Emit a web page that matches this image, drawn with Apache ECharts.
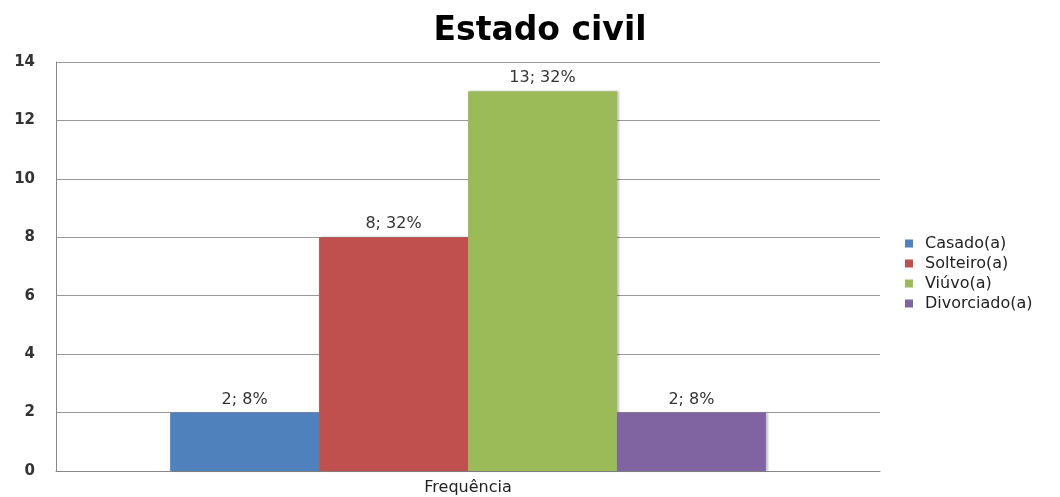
<!DOCTYPE html>
<html><head><meta charset="utf-8">
<script src="https://cdn.jsdelivr.net/npm/echarts@6/dist/echarts.min.js"></script>
<style>html,body{margin:0;padding:0;background:#fff}#c{width:1060px;height:497px}</style>
</head><body><div id="c"></div>
<script>
const categories = ['Frequência'];
const seriesNames = ['Casado(a)', 'Solteiro(a)', 'Viúvo(a)', 'Divorciado(a)'];
const seriesValues = [2, 8, 13, 2];
const seriesPercents = ['8%', '32%', '32%', '8%'];
const colors = ['#4F81BD', '#C0504D', '#9BBB59', '#8064A2'];

const chart = echarts.init(document.getElementById('c'));
chart.setOption({
  animation: false,
  title: {
    text: 'Estado civil', left: 535, top: 10, textAlign: 'center',
    textStyle: {fontFamily: 'DejaVu Sans', fontSize: 33, fontWeight: 'bold', color: '#000'}
  },
  legend: {
    orient: 'vertical', left: 900, top: 230, itemWidth: 8, itemHeight: 8, itemGap: 3,
    icon: 'rect',
    textStyle: {fontFamily: 'DejaVu Sans', fontSize: 16, lineHeight: 17, color: '#222', padding: [0, 0, 0, 7]},
    data: seriesNames
  },
  grid: {left: 56, right: 180, top: 62, bottom: 26},
  xAxis: {
    type: 'category', data: categories,
    axisLine: {lineStyle: {color: '#888'}},
    axisTick: {show: false},
    axisLabel: {fontFamily: 'DejaVu Sans', fontSize: 16, color: '#222', margin: 9}
  },
  yAxis: {
    type: 'value', min: 0, max: 14, interval: 2,
    axisLine: {show: true, lineStyle: {color: '#888'}},
    axisTick: {show: false},
    splitLine: {lineStyle: {color: '#999'}},
    axisLabel: {fontFamily: 'DejaVu Sans', fontSize: 15, fontWeight: 'bold', color: '#333', margin: 21}
  },
  series: seriesNames.map((n, i) => ({
    name: n, type: 'bar', barGap: '0%', barCategoryGap: '27.7%',
    data: [seriesValues[i]],
    itemStyle: {color: colors[i], shadowColor: 'rgba(0,0,0,0.25)', shadowOffsetX: 2, shadowBlur: 2},
    label: {show: true, position: 'top', distance: 5, fontFamily: 'DejaVu Sans', fontSize: 16, color: '#333',
      formatter: () => seriesValues[i] + '; ' + seriesPercents[i]}
  }))
});
</script></body></html>
